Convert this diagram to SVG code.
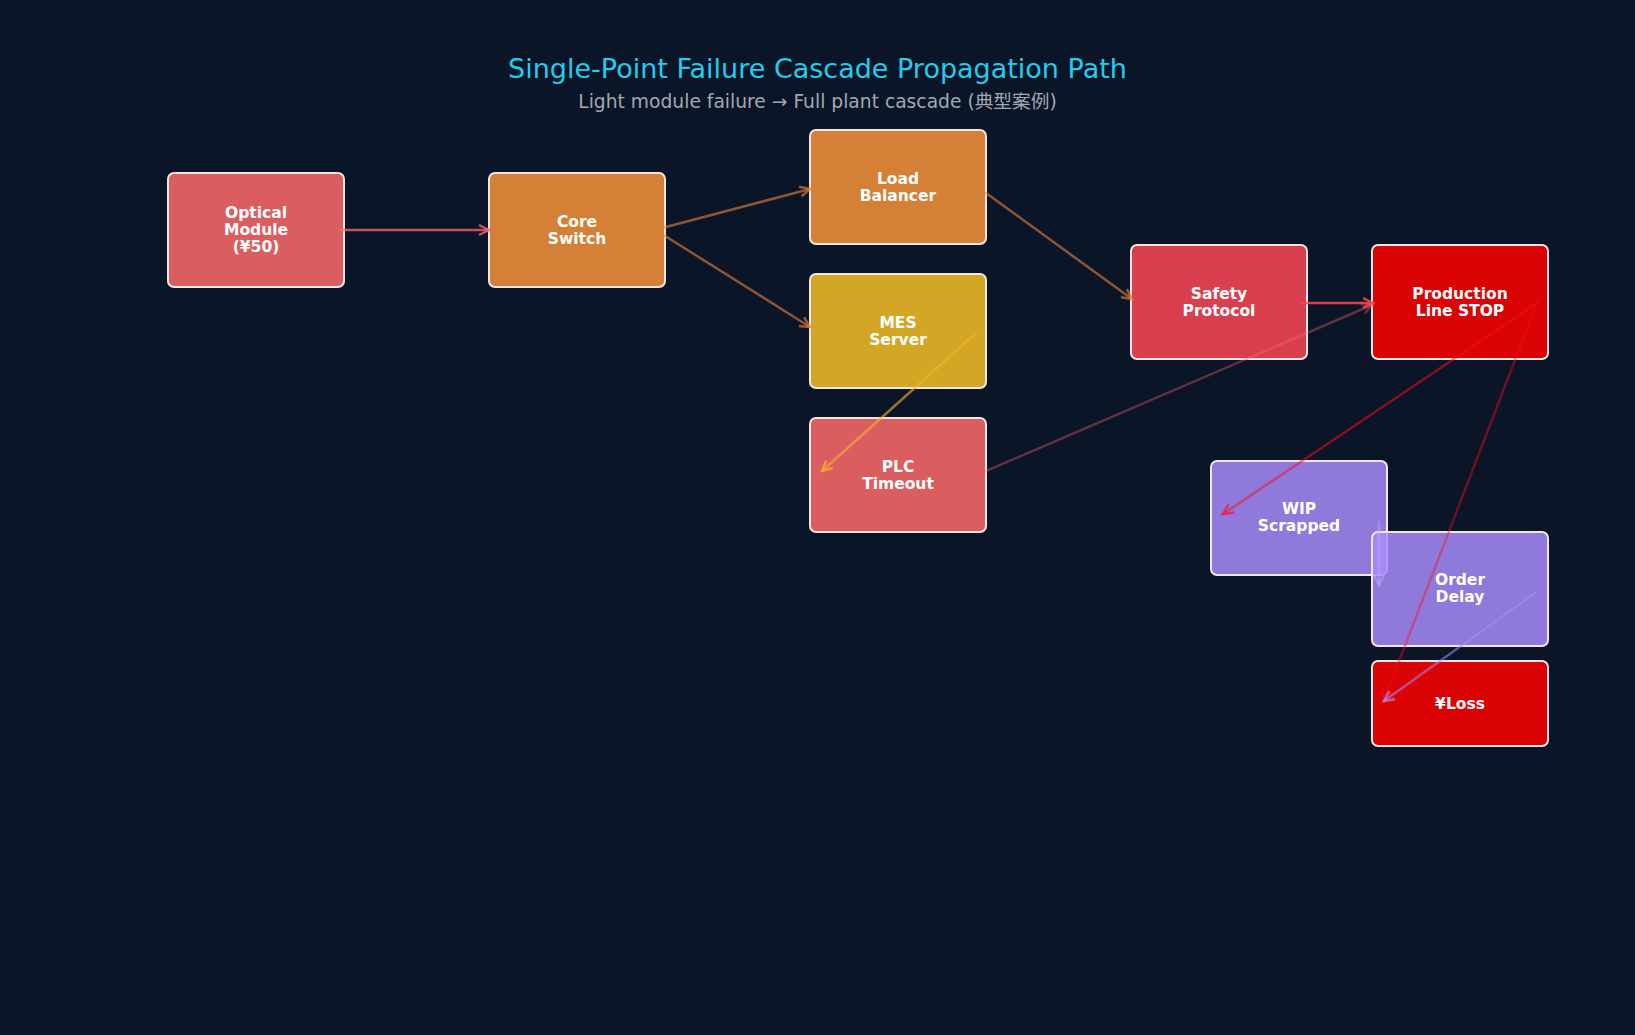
<svg xmlns="http://www.w3.org/2000/svg" width="1635" height="1035" viewBox="0 0 1635 1035">
<defs>
<style>
.bg{fill:#0a1527}
.title{font-family:"DejaVu Sans","Noto Sans CJK SC",sans-serif;font-size:27px;fill:#22cdee;text-anchor:middle}
.sub{font-family:"DejaVu Sans","Noto Sans CJK SC",sans-serif;font-size:18.7px;fill:#a3a8b0;text-anchor:middle}
.node rect{stroke:#f5e6e6;stroke-width:2;fill-opacity:0.85}
.node text{font-family:"DejaVu Sans",sans-serif;font-weight:bold;font-size:15.5px;fill:#ffffff;text-anchor:middle}
.e{fill:none;stroke-width:2.5;stroke-linecap:round}
</style>
<marker id="m-coral" markerUnits="userSpaceOnUse" markerWidth="14" markerHeight="14" refX="10" refY="5" orient="auto" overflow="visible"><path d="M0,0 L10,5 L0,10" fill="none" stroke="#ff6b6b" stroke-opacity="0.75" stroke-width="2.5"/></marker>
<marker id="m-coral-faint" markerUnits="userSpaceOnUse" markerWidth="14" markerHeight="14" refX="10" refY="5" orient="auto" overflow="visible"><path d="M0,0 L10,5 L0,10" fill="none" stroke="#ff6b6b" stroke-opacity="0.35" stroke-width="2.5"/></marker>
<marker id="m-orange" markerUnits="userSpaceOnUse" markerWidth="14" markerHeight="14" refX="10" refY="5" orient="auto" overflow="visible"><path d="M0,0 L10,5 L0,10" fill="none" stroke="#e8803a" stroke-opacity="0.65" stroke-width="2.5"/></marker>
<marker id="m-gold" markerUnits="userSpaceOnUse" markerWidth="14" markerHeight="14" refX="10" refY="5" orient="auto" overflow="visible"><path d="M0,0 L10,5 L0,10" fill="none" stroke="#f8b030" stroke-opacity="0.75" stroke-width="2.5"/></marker>
<marker id="m-red" markerUnits="userSpaceOnUse" markerWidth="14" markerHeight="14" refX="10" refY="5" orient="auto" overflow="visible"><path d="M0,0 L10,5 L0,10" fill="none" stroke="#ff4757" stroke-opacity="0.85" stroke-width="2.5"/></marker>
<marker id="m-stop" markerUnits="userSpaceOnUse" markerWidth="14" markerHeight="14" refX="10" refY="5" orient="auto" overflow="visible"><path d="M0,0 L10,5 L0,10" fill="none" stroke="#ff0a20" stroke-opacity="0.6" stroke-width="2.5"/></marker>
<marker id="m-purple" markerUnits="userSpaceOnUse" markerWidth="14" markerHeight="14" refX="10" refY="5" orient="auto" overflow="visible"><path d="M0,0 L10,5 L0,10" fill="none" stroke="#b39dfb" stroke-opacity="0.6" stroke-width="2.5"/></marker>
<marker id="m-lilac" markerUnits="userSpaceOnUse" markerWidth="14" markerHeight="14" refX="10" refY="5" orient="auto" overflow="visible"><path d="M0,0 L10,5 L0,10" fill="none" stroke="#c9b8fd" stroke-opacity="0.4" stroke-width="2.5"/></marker>
</defs>
<rect class="bg" x="0" y="0" width="1635" height="1035"/>
<text class="title" x="817.5" y="78">Single-Point Failure Cascade Propagation Path</text>
<text class="sub" x="817.5" y="108">Light module failure → Full plant cascade (典型案例)</text>

<g id="node-optical" class="node"><rect x="168" y="173" width="176" height="114" rx="6" fill="#ff6b6b"/><text x="256" y="217.5">Optical</text><text x="256" y="234.5">Module</text><text x="256" y="251.5">(¥50)</text></g>
<g id="node-core" class="node"><rect x="489" y="173" width="176" height="114" rx="6" fill="#f9933b"/><text x="577" y="227">Core</text><text x="577" y="244">Switch</text></g>
<g id="node-lb" class="node"><rect x="810" y="130" width="176" height="114" rx="6" fill="#f9933b"/><text x="898" y="184">Load</text><text x="898" y="201">Balancer</text></g>
<g id="node-mes" class="node"><rect x="810" y="274" width="176" height="114" rx="6" fill="#f8bf26"/><text x="898" y="328">MES</text><text x="898" y="345">Server</text></g>
<g id="node-plc" class="node"><rect x="810" y="418" width="176" height="114" rx="6" fill="#ff6b6b"/><text x="898" y="472">PLC</text><text x="898" y="489">Timeout</text></g>
<g id="node-safety" class="node"><rect x="1131" y="245" width="176" height="114" rx="6" fill="#ff4757"/><text x="1219" y="299">Safety</text><text x="1219" y="316">Protocol</text></g>
<g id="node-prod" class="node"><rect x="1372" y="245" width="176" height="114" rx="6" fill="#ff0000"/><text x="1460" y="299">Production</text><text x="1460" y="316">Line STOP</text></g>
<g id="node-wip" class="node"><rect x="1211" y="461" width="176" height="114" rx="6" fill="#a78bfa"/><text x="1299" y="514">WIP</text><text x="1299" y="531">Scrapped</text></g>
<g id="node-order" class="node"><rect x="1372" y="532" width="176" height="114" rx="6" fill="#a78bfa"/><text x="1460" y="585">Order</text><text x="1460" y="602">Delay</text></g>
<g id="node-loss" class="node"><rect x="1372" y="661" width="176" height="85" rx="6" fill="#ff0000"/><text x="1460" y="709">¥Loss</text></g>

<g id="connectors">
<line class="e" x1="340" y1="230" x2="489" y2="230" stroke="#ff6b6b" stroke-opacity="0.75" marker-end="url(#m-coral)"/>
<line class="e" x1="662" y1="228" x2="810" y2="189" stroke="#e8803a" stroke-opacity="0.6" marker-end="url(#m-orange)"/>
<line class="e" x1="662" y1="234" x2="810" y2="327" stroke="#e8803a" stroke-opacity="0.6" marker-end="url(#m-orange)"/>
<line class="e" x1="986" y1="193" x2="1132" y2="299" stroke="#e8803a" stroke-opacity="0.6" marker-end="url(#m-orange)"/>
<line class="e" x1="976" y1="333" x2="822" y2="471" stroke="#f8b030" stroke-opacity="0.6" marker-end="url(#m-gold)"/>
<line class="e" x1="986" y1="471" x2="1372" y2="305" stroke="#ff6b6b" stroke-opacity="0.35" marker-end="url(#m-coral-faint)"/>
<line class="e" x1="1302" y1="303" x2="1373" y2="303" stroke="#ff4757" stroke-opacity="0.85" marker-end="url(#m-red)"/>
<line class="e" x1="1537" y1="303" x2="1223" y2="514" stroke="#ff0a20" stroke-opacity="0.5" marker-end="url(#m-stop)"/>
<line class="e" x1="1537" y1="303" x2="1384" y2="700" stroke="#ff0a20" stroke-opacity="0.4" marker-end="url(#m-stop)"/>
<line class="e" x1="1535" y1="593" x2="1384" y2="701" stroke="#a78bfa" stroke-opacity="0.55" marker-end="url(#m-purple)"/>
<line class="e" x1="1379" y1="522" x2="1379" y2="585" stroke="#c9b8fd" stroke-opacity="0.35" marker-end="url(#m-lilac)"/>
</g>
</svg>
